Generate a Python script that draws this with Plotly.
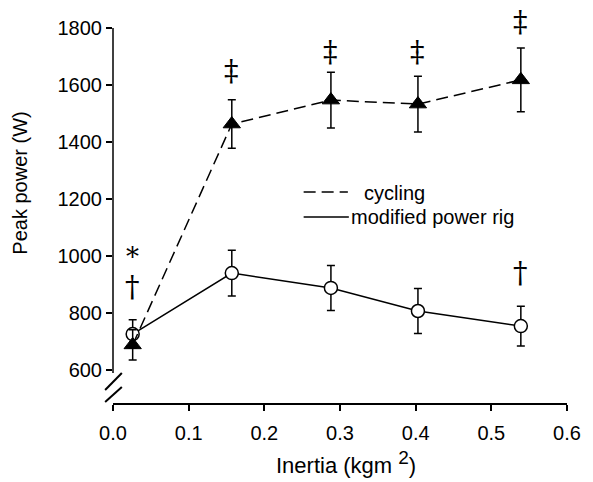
import plotly.graph_objects as go

# Data
inertia_cyc = [0.026, 0.157, 0.288, 0.403, 0.539]
power_cyc = [688, 1463, 1547, 1533, 1618]
sd_cyc = [53, 85, 98, 98, 112]

inertia_rig = [0.026, 0.157, 0.288, 0.403, 0.539]
power_rig = [726, 940, 888, 807, 754]
sd_rig = [50, 80, 79, 79, 70]

# significance symbols
sym_text = ["*", "\u2020", "\u2021", "\u2021", "\u2021", "\u2021", "\u2020"]
sym_x = [0.026, 0.026, 0.157, 0.288, 0.403, 0.539, 0.539]
sym_y = [998, 892, 1650, 1716, 1716, 1822, 941]

x_ticks = [0.0, 0.1, 0.2, 0.3, 0.4, 0.5, 0.6]
x_ticktext = ["0.0", "0.1", "0.2", "0.3", "0.4", "0.5", "0.6"]
y_ticks = [600, 800, 1000, 1200, 1400, 1600, 1800]
Y_RANGE = [484.2, 1800]

FONT = "Liberation Sans, Arial, sans-serif"

fig = go.Figure()

fig.add_trace(go.Scatter(
    x=inertia_rig, y=power_rig, mode="lines+markers", name="modified power rig",
    line=dict(color="black", width=1.5),
    marker=dict(symbol="circle", size=13, color="white", line=dict(color="black", width=1.5)),
    error_y=dict(type="data", array=sd_rig, visible=True, color="black", thickness=1.5, width=4),
    showlegend=False, cliponaxis=False,
))
fig.add_trace(go.Scatter(
    x=inertia_cyc, y=power_cyc, mode="lines+markers", name="cycling",
    line=dict(color="black", width=1.5, dash="12px,6px"),
    marker=dict(symbol="triangle-up", size=15, color="black", line=dict(color="black", width=1)),
    error_y=dict(type="data", array=sd_cyc, visible=True, color="black", thickness=1.5, width=4),
    showlegend=False, cliponaxis=False,
))

def yp(v):
    return (v - Y_RANGE[0]) / (Y_RANGE[1] - Y_RANGE[0])

annotations = []
for t, x, y in zip(sym_text, sym_x, sym_y):
    annotations.append(dict(x=x, y=yp(y), xref="x", yref="paper", text=t, showarrow=False,
                            xanchor="center", yanchor="middle",
                            font=dict(family="DejaVu Serif, serif", size=29 if t != "*" else 26,
                                      color="#000000")))

def px(x):
    return (x - 113) / 462

def py(y):
    return (403 - y) / 375

# legend drawn manually
annotations.append(dict(x=px(366), y=py(193), xref="paper", yref="paper",
                        text="cycling", showarrow=False, xanchor="left", yanchor="middle",
                        font=dict(family=FONT, size=20, color="black")))
annotations.append(dict(x=px(353), y=py(217), xref="paper", yref="paper",
                        text="modified power rig", showarrow=False, xanchor="left", yanchor="middle",
                        font=dict(family=FONT, size=20, color="black")))
# axis titles
annotations.append(dict(x=px(18), y=py(183), xref="paper", yref="paper",
                        text="Peak power (W)", showarrow=False, textangle=-90,
                        xanchor="center", yanchor="middle",
                        font=dict(family=FONT, size=20, color="black")))
annotations.append(dict(x=px(350), y=py(462), xref="paper", yref="paper",
                        text="Inertia (kgm <sup><span style='font-size:19px'>2</span></sup>)",
                        showarrow=False, xanchor="center", yanchor="middle",
                        font=dict(family=FONT, size=22, color="black")))

shapes = [
    # y axis line with break
    dict(type="line", xref="paper", yref="paper", x0=0, x1=0, y0=py(373), y1=1,
         line=dict(color="black", width=1.5)),
    dict(type="line", xref="paper", yref="paper", x0=px(105), y0=py(390), x1=px(122), y1=py(373),
         line=dict(color="black", width=2)),
    dict(type="line", xref="paper", yref="paper", x0=px(105), y0=py(402), x1=px(122), y1=py(387),
         line=dict(color="black", width=2)),
    # legend samples
    dict(type="line", xref="paper", yref="paper", x0=px(307), x1=px(352), y0=py(192), y1=py(192),
         line=dict(color="black", width=1.5, dash="12px,6px")),
    dict(type="line", xref="paper", yref="paper", x0=px(307), x1=px(353), y0=py(217), y1=py(217),
         line=dict(color="black", width=1.5)),
]

fig.update_layout(
    width=593, height=482,
    margin=dict(l=113, r=18, t=28, b=79),
    plot_bgcolor="white", paper_bgcolor="white",
    font=dict(family=FONT, size=20, color="black"),
    annotations=annotations, shapes=shapes,
    xaxis=dict(range=[0, 0.6], tickvals=x_ticks, ticktext=x_ticktext, showgrid=False, zeroline=False,
               showline=True, linecolor="black", linewidth=1.5, ticks="outside", ticklen=6,
               tickwidth=1.5, tickcolor="black", tickfont=dict(size=20), ticklabelstandoff=5),
    yaxis=dict(range=Y_RANGE, tickvals=y_ticks, showgrid=False, zeroline=False,
               showline=False, ticks="outside", ticklen=6, tickwidth=1.5, tickcolor="black",
               tickfont=dict(size=20)),
)

fig.write_html("out.html")
